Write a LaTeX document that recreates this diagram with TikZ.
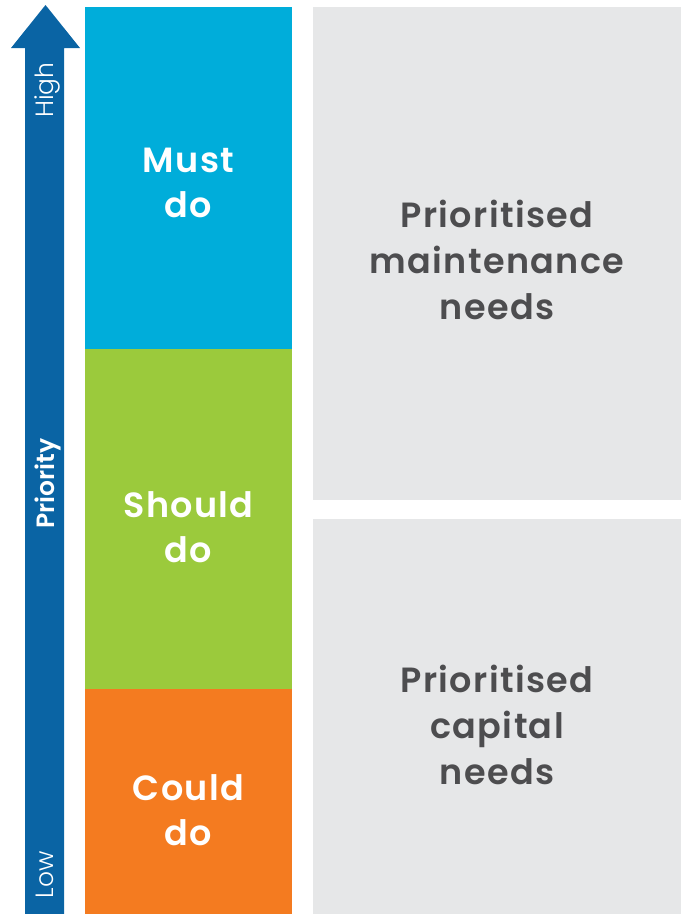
\documentclass[tikz,border=0pt]{standalone}
\usepackage{fontspec}
\setmainfont{Poppins}[BoldFont=Poppins SemiBold, BoldFeatures={LetterSpace=4}]
\newfontfamily\poplight{Poppins Light}
\newfontfamily\popsemi{Poppins SemiBold}
\usepackage{tikz}

\definecolor{prioblue}{HTML}{0A64A4}
\definecolor{mustblue}{HTML}{00ADDA}
\definecolor{shouldgreen}{HTML}{9BCA3C}
\definecolor{couldorange}{HTML}{F47B20}
\definecolor{needsgrey}{HTML}{E6E7E8}
\definecolor{needstext}{HTML}{4D4D4F}

\begin{document}
\begin{tikzpicture}[x=1pt,y=-1pt]
              \tikzstyle{every node}+=[inner sep=0pt]
              % text nodes sit on the baseline of their last line
              \tikzstyle{level}=[font=\fontsize{35}{45}\selectfont\bfseries, text=white, align=center, anchor=base]
              \tikzstyle{needs}=[font=\fontsize{35}{46}\selectfont\bfseries, text=needstext, align=center, anchor=base]
              \tikzstyle{axis}=[font=\fontsize{25}{25}\selectfont, text=white, rotate=90, anchor=base]
              \useasboundingbox (0,0) rectangle (681,914);
              % priority arrow
              \fill [prioblue] (25,914) -- (25,48) -- (11,48) -- (45.5,5) -- (80,48) -- (64,48) -- (64,914) -- cycle;
              \node [axis] (high) at (53,90) {\poplight High};
              \node [axis] (prio) at (54.5,483.5) {\popsemi Priority};
              \node [axis] (low) at (53,875) {\poplight Low};
              % must / should / could column
              \fill [mustblue] (85,7) rectangle (292,349);
              \fill [shouldgreen] (85,349) rectangle (292,689);
              \fill [couldorange] (85,689) rectangle (292,914);
              \node [level] (must) at (188.5,217) {Must\\do};
              \node [level] (should) at (188.5,562) {Should\\do};
              \node [level] (could) at (188.5,845) {Could\\do};
              % needs boxes
              \fill [needsgrey] (313,7) rectangle (681,500);
              \fill [needsgrey] (313,519) rectangle (681,914);
              \node [needs] (maint) at (497,319) {Prioritised\\maintenance\\needs};
              \node [needs] (capital) at (497,784) {Prioritised\\capital\\needs};
\end{tikzpicture}
\end{document}
